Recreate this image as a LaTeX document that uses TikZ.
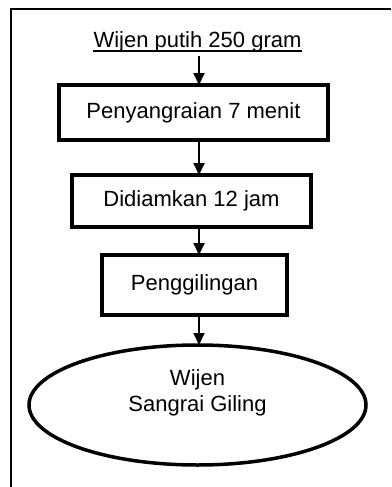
\documentclass[tikz,border=0pt]{standalone}
\usepackage{fontspec}
\setmainfont{Liberation Sans}
\usetikzlibrary{arrows.meta,shapes.geometric}
\begin{document}
\begin{tikzpicture}[x=1pt,y=-1pt,
  every node/.style={font=\fontsize{22}{26}\selectfont},
  procbox/.style={draw, line width=4pt, rectangle, inner sep=0pt, outer sep=0pt},
  endbox/.style={draw, ellipse, line width=3.5pt, inner sep=0pt, outer sep=0pt},
  arr/.style={line width=2pt, -{Triangle[length=12pt,width=11pt]}},
  frameline/.style={line width=2pt}
  ]
\useasboundingbox (0,0) rectangle (391,487);
\draw[frameline] (11,487) -- (11,8.7) -- (391,8.7);
\coordinate (axis) at (199,0);
\node[anchor=base, inner sep=0pt] (title) at (197.5,48) {Wijen putih 250 gram};
\draw[line width=1.5pt] ([yshift=-3pt]title.base west) -- ([yshift=-3pt]title.base east);
\node[procbox, minimum width=269pt, minimum height=55pt] (b1) at (193.5,112.5) {Penyangraian 7 menit};
\node[procbox, minimum width=239pt, minimum height=52pt] (b2) at (191.5,201) {Didiamkan 12 jam};
\node[procbox, minimum width=185pt, minimum height=60pt] (b3) at (194.5,285) {Penggilingan};
\node[endbox, minimum width=337pt, minimum height=120pt] (e) at (197.5,405)
  {\raisebox{11.5pt}[\height][\depth]{\begin{tabular}{@{}c@{}}Wijen\\Sangrai Giling\end{tabular}}};
\draw[arr] ([yshift=-8pt]title.base -| axis) -- (b1.north -| axis);
\draw[arr] (b1.south -| axis) -- (b2.north -| axis);
\draw[arr] (b2.south -| axis) -- (b3.north -| axis);
\draw[arr] (b3.south -| axis) -- (e.north -| axis);
\end{tikzpicture}
\end{document}
